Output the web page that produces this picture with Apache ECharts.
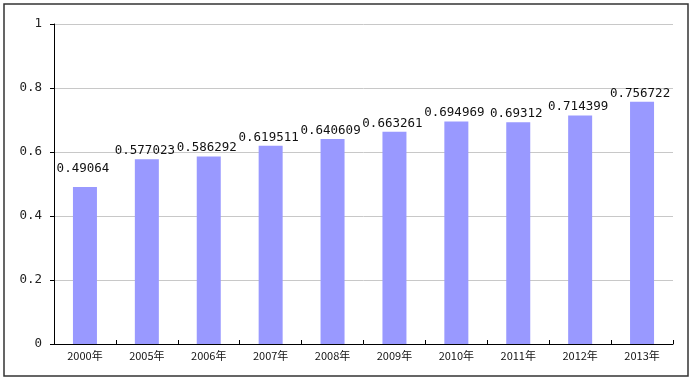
<!DOCTYPE html>
<html>
<head>
<meta charset="utf-8">
<script src="https://cdn.jsdelivr.net/npm/echarts@6/dist/echarts.min.js"></script>
<style>
html,body{margin:0;padding:0;background:#fff;}
#c{width:692px;height:378px;}
</style>
</head>
<body>
<div id="c"></div>
<script>
const categories = ['2000年','2005年','2006年','2007年','2008年','2009年','2010年','2011年','2012年','2013年'];
const values = [0.49064,0.577023,0.586292,0.619511,0.640609,0.663261,0.694969,0.69312,0.714399,0.756722];
const yTicks = { min: 0, max: 1, interval: 0.2 };

const chart = echarts.init(document.getElementById('c'));
const labelFont = 'DejaVu Sans Mono, monospace';
chart.setOption({
  animation: false,
  backgroundColor: '#fff',
  graphic: [{
    type: 'rect',
    shape: { x: 4, y: 4, width: 684, height: 372 },
    style: { fill: 'none', stroke: '#333', lineWidth: 1.5 },
    silent: true
  }],
  grid: { left: 54, right: 19, top: 24, bottom: 34, containLabel: false },
  xAxis: {
    type: 'category',
    data: categories,
    axisLine: { lineStyle: { color: '#000', width: 1 } },
    axisTick: { show: true, inside: true, length: 4, lineStyle: { color: '#000' } },
    axisLabel: { color: '#111', fontSize: 11, margin: 6, fontFamily: 'Noto Sans CJK SC, sans-serif', interval: 0 }
  },
  yAxis: {
    type: 'value',
    min: yTicks.min, max: yTicks.max, interval: yTicks.interval,
    axisLine: { show: true, lineStyle: { color: '#000', width: 1 } },
    axisTick: { show: true, inside: false, length: 4, lineStyle: { color: '#000' } },
    splitLine: { lineStyle: { color: '#c8c8c8', width: 1 } },
    axisLabel: { color: '#222', fontSize: 12.5, margin: 12, fontFamily: labelFont }
  },
  series: [{
    type: 'bar',
    barWidth: 24,
    itemStyle: { color: '#9999ff' },
    data: values.map((v, i) => i === 0 ? { value: v, label: { distance: 12 } } : v),
    label: {
      show: true,
      position: 'top',
      distance: 2,
      offset: [-2, 0],
      color: '#111',
      fontSize: 12.5,
      fontFamily: labelFont
    }
  }]
});
</script>
</body>
</html>
